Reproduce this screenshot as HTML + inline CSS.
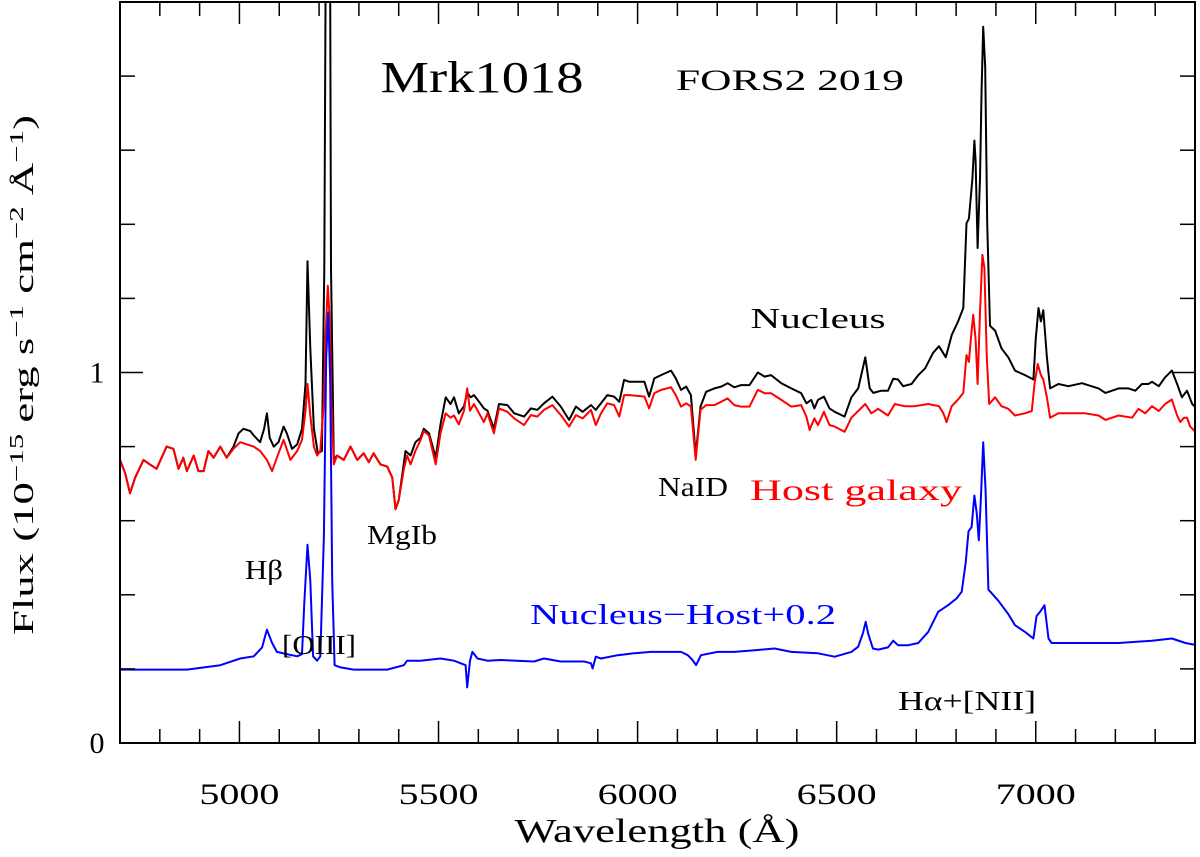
<!DOCTYPE html>
<html><head><meta charset="utf-8"><style>
html,body{margin:0;padding:0;background:#fff;}
svg{display:block;font-family:"Liberation Serif",serif;}
</style></head><body>
<svg id="chart" width="1200" height="857" viewBox="0 0 1200 857" xmlns="http://www.w3.org/2000/svg">
<defs><clipPath id="clip"><rect x="120" y="2" width="1075" height="741"/></clipPath></defs>
<g id="series" clip-path="url(#clip)"></g>
<rect x="120" y="2" width="1075" height="741" fill="none" stroke="#000" stroke-width="2"/>
<g id="ticks"></g>
<text x="482" y="92" font-size="44" textLength="203" lengthAdjust="spacingAndGlyphs" text-anchor="middle">Mrk1018</text>
<text x="790" y="90" font-size="30" textLength="228" lengthAdjust="spacingAndGlyphs" text-anchor="middle">FORS2 2019</text>
<text x="818" y="328" font-size="29" textLength="135" lengthAdjust="spacingAndGlyphs" text-anchor="middle">Nucleus</text>
<text x="856" y="500" font-size="30" fill="#ff0000" textLength="212" lengthAdjust="spacingAndGlyphs" text-anchor="middle">Host galaxy</text>
<text x="693" y="496" font-size="27" textLength="70" lengthAdjust="spacingAndGlyphs" text-anchor="middle">NaID</text>
<text x="402" y="544" font-size="27" textLength="70" lengthAdjust="spacingAndGlyphs" text-anchor="middle">MgIb</text>
<text x="264" y="579" font-size="27" textLength="38" lengthAdjust="spacingAndGlyphs" text-anchor="middle">Hβ</text>
<text x="319" y="654" font-size="27" textLength="74" lengthAdjust="spacingAndGlyphs" text-anchor="middle">[OIII]</text>
<text x="683" y="624" font-size="29" fill="#0000ff" textLength="306" lengthAdjust="spacingAndGlyphs" text-anchor="middle">Nucleus−Host+0.2</text>
<text x="967" y="710" font-size="27" textLength="138" lengthAdjust="spacingAndGlyphs" text-anchor="middle">Hα+[NII]</text>
<text x="657" y="842" font-size="34" textLength="285" lengthAdjust="spacingAndGlyphs" text-anchor="middle">Wavelength (Å)</text>
<text transform="translate(33,375) rotate(-90)" font-size="29" textLength="520" lengthAdjust="spacingAndGlyphs" text-anchor="middle">Flux (10<tspan font-size="20" dy="-10">−15</tspan><tspan dy="10"> erg s</tspan><tspan font-size="20" dy="-10">−1</tspan><tspan dy="10"> cm</tspan><tspan font-size="20" dy="-10">−2</tspan><tspan dy="10"> Å</tspan><tspan font-size="20" dy="-10">−1</tspan><tspan dy="10">)</tspan></text>
</svg>
<script>
const xTickLabels=[5000,5500,6000,6500,7000];
const yTickLabels=[0,1];
const nucleusWave=[4700,4713,4725,4738,4759,4775,4792,4817,4834,4847,4859,4868,4885,4897,4910,4922,4935,4952,4968,4985,4998,5010,5027,5036,5052,5062,5069,5076,5086,5098,5111,5119,5132,5145,5157,5166,5171,5178,5187,5197,5207,5213,5218,5227,5230,5237,5245,5262,5279,5296,5312,5325,5337,5354,5371,5384,5392,5400,5417,5430,5442,5455,5463,5476,5493,5505,5518,5530,5539,5551,5564,5572,5581,5589,5602,5614,5623,5639,5652,5673,5690,5715,5732,5748,5765,5786,5807,5828,5845,5862,5883,5895,5908,5924,5941,5954,5966,5979,6017,6029,6042,6059,6084,6096,6109,6122,6134,6146,6158,6172,6193,6210,6226,6243,6260,6281,6302,6319,6335,6361,6386,6411,6424,6436,6444,6453,6468,6482,6495,6520,6537,6554,6572,6583,6592,6612,6629,6642,6654,6667,6688,6705,6722,6742,6757,6774,6789,6805,6818,6826,6832,6841,6846,6849,6854,6860,6864,6868,6873,6878,6885,6898,6914,6931,6948,6973,6994,7000,7007,7013,7019,7028,7036,7057,7082,7116,7158,7175,7208,7233,7250,7267,7283,7292,7309,7325,7342,7355,7367,7380,7393,7405];
const nucleusFlux=[0.764,0.728,0.674,0.716,0.764,0.752,0.740,0.800,0.794,0.740,0.770,0.734,0.776,0.734,0.734,0.788,0.770,0.800,0.770,0.800,0.836,0.848,0.842,0.830,0.812,0.848,0.890,0.824,0.800,0.812,0.854,0.836,0.794,0.806,0.848,0.969,1.300,1.065,0.848,0.782,0.788,1.282,2.4,2.4,1.282,0.764,0.776,0.764,0.800,0.764,0.782,0.758,0.782,0.752,0.746,0.716,0.631,0.655,0.788,0.776,0.812,0.824,0.848,0.836,0.770,0.860,0.933,0.915,0.933,0.890,0.909,0.945,0.933,0.939,0.921,0.903,0.897,0.848,0.915,0.912,0.890,0.881,0.903,0.899,0.917,0.935,0.908,0.872,0.908,0.894,0.912,0.899,0.917,0.939,0.935,0.921,0.980,0.975,0.975,0.935,0.984,0.993,1.005,0.984,0.953,0.962,0.939,0.777,0.908,0.948,0.957,0.962,0.971,0.960,0.966,0.966,1.000,0.989,0.993,0.971,0.957,0.944,0.917,0.926,0.903,0.926,0.935,0.903,0.894,0.881,0.933,0.957,1.041,0.957,0.945,0.951,0.951,0.983,0.981,0.963,0.969,0.993,1.011,1.053,1.071,1.041,1.101,1.138,1.174,1.403,1.415,1.523,1.626,1.571,1.336,1.523,1.764,1.933,1.824,1.403,1.126,1.113,1.065,1.041,1.005,0.993,0.981,1.089,1.174,1.138,1.168,1.041,0.957,0.969,0.963,0.971,0.957,0.945,0.957,0.957,0.951,0.969,0.969,0.975,0.963,0.987,1.005,0.969,0.933,0.951,0.915,0.902];
const hostWave=[4700,4713,4725,4738,4759,4775,4792,4817,4834,4847,4859,4868,4885,4897,4910,4922,4935,4952,4968,4985,5002,5019,5036,5052,5069,5082,5094,5111,5128,5145,5157,5166,5171,5178,5187,5195,5203,5212,5216,5222,5227,5231,5237,5245,5262,5279,5296,5312,5325,5337,5354,5371,5384,5392,5400,5413,5421,5430,5442,5455,5463,5476,5493,5505,5518,5530,5539,5551,5564,5572,5579,5589,5602,5614,5623,5639,5652,5673,5690,5715,5732,5748,5765,5786,5807,5828,5845,5862,5883,5895,5908,5924,5941,5954,5966,5979,6017,6029,6042,6059,6084,6096,6109,6122,6134,6146,6158,6172,6193,6210,6226,6243,6260,6281,6302,6319,6335,6361,6386,6411,6424,6432,6444,6453,6468,6482,6495,6520,6537,6572,6587,6604,6629,6646,6671,6696,6730,6757,6768,6776,6789,6805,6818,6826,6832,6837,6843,6849,6854,6860,6866,6871,6877,6883,6898,6914,6931,6948,6973,6990,6997,7005,7013,7019,7028,7036,7057,7091,7124,7158,7175,7208,7242,7258,7275,7292,7309,7325,7342,7355,7363,7372,7380,7388,7405];
const hostFlux=[0.764,0.728,0.674,0.716,0.764,0.752,0.740,0.800,0.794,0.740,0.770,0.734,0.776,0.734,0.734,0.788,0.770,0.800,0.770,0.794,0.812,0.806,0.800,0.788,0.764,0.734,0.770,0.818,0.764,0.788,0.818,0.897,0.969,0.884,0.800,0.776,0.788,0.921,1.089,1.234,1.138,0.921,0.752,0.776,0.764,0.800,0.764,0.782,0.758,0.782,0.752,0.746,0.716,0.631,0.655,0.740,0.776,0.752,0.788,0.818,0.842,0.830,0.752,0.836,0.890,0.878,0.884,0.860,0.897,0.957,0.897,0.915,0.890,0.866,0.890,0.836,0.903,0.894,0.876,0.858,0.885,0.881,0.899,0.912,0.885,0.854,0.885,0.876,0.899,0.858,0.890,0.917,0.912,0.881,0.939,0.939,0.935,0.903,0.944,0.953,0.960,0.939,0.908,0.917,0.908,0.764,0.899,0.912,0.912,0.921,0.930,0.912,0.908,0.908,0.953,0.944,0.944,0.926,0.908,0.912,0.881,0.845,0.876,0.858,0.894,0.858,0.854,0.840,0.878,0.915,0.890,0.902,0.884,0.915,0.909,0.909,0.915,0.909,0.890,0.866,0.909,0.927,0.945,1.047,1.029,1.089,1.156,1.089,0.969,1.162,1.318,1.282,1.041,0.915,0.933,0.909,0.902,0.884,0.890,0.896,0.969,1.023,0.993,0.981,0.933,0.878,0.890,0.890,0.890,0.884,0.872,0.884,0.878,0.902,0.890,0.909,0.896,0.915,0.927,0.884,0.866,0.878,0.878,0.854,0.836];
const diffWave=[4700,4784,4868,4952,5002,5036,5057,5069,5082,5094,5119,5145,5157,5163,5171,5178,5185,5195,5203,5212,5218,5223,5228,5233,5239,5254,5287,5371,5413,5421,5455,5505,5539,5568,5572,5579,5585,5598,5623,5656,5740,5765,5807,5866,5883,5887,5895,5908,5950,5991,6033,6075,6109,6126,6138,6147,6159,6201,6243,6302,6344,6386,6453,6495,6537,6554,6566,6573,6579,6591,6604,6629,6642,6654,6680,6705,6730,6755,6780,6801,6814,6824,6831,6839,6846,6852,6857,6862,6868,6874,6881,6906,6931,6948,6973,6994,7002,7011,7022,7032,7040,7124,7208,7292,7342,7376,7405];
const diffFlux=[0.198,0.198,0.198,0.210,0.228,0.234,0.258,0.306,0.270,0.246,0.240,0.234,0.240,0.378,0.535,0.439,0.234,0.222,0.234,0.559,1.041,1.162,0.981,0.439,0.210,0.204,0.198,0.198,0.210,0.222,0.222,0.228,0.222,0.210,0.150,0.222,0.246,0.228,0.222,0.224,0.220,0.228,0.220,0.220,0.215,0.201,0.233,0.228,0.237,0.242,0.246,0.246,0.246,0.237,0.224,0.210,0.237,0.246,0.246,0.251,0.255,0.246,0.242,0.233,0.246,0.260,0.296,0.327,0.296,0.255,0.252,0.258,0.276,0.264,0.264,0.270,0.300,0.354,0.372,0.390,0.408,0.487,0.571,0.583,0.668,0.619,0.547,0.655,0.812,0.680,0.414,0.384,0.348,0.318,0.300,0.282,0.342,0.354,0.372,0.282,0.270,0.270,0.270,0.276,0.282,0.270,0.264];

const X0=120,X1=1195,Y0=743,Y1=2,WMIN=4700,WMAX=7400,FMIN=0,FMAX=2;
function xs(w){return X0+(w-WMIN)/(WMAX-WMIN)*(X1-X0);}
function ys(f){return Y0-(f-FMIN)/(FMAX-FMIN)*(Y0-Y1);}
const NS='http://www.w3.org/2000/svg';
const svg=document.getElementById('chart');
const gS=document.getElementById('series');
const gT=document.getElementById('ticks');
function drawLine(wave,flux,color,name){
  let d='';
  for(let i=0;i<wave.length;i++){d+=(i?'L':'M')+xs(wave[i]).toFixed(1)+' '+ys(flux[i]).toFixed(1);}
  const p=document.createElementNS(NS,'path');
  p.setAttribute('d',d);p.setAttribute('fill','none');p.setAttribute('stroke',color);
  p.setAttribute('stroke-width','2');p.setAttribute('stroke-linejoin','round');
  
  
  gS.appendChild(p);
}
drawLine(nucleusWave,nucleusFlux,'#000000','nucleus-spectrum');
drawLine(hostWave,hostFlux,'#ff0000','host-galaxy-spectrum');
drawLine(diffWave,diffFlux,'#0000ff','difference-spectrum');
function tick(x1,y1,x2,y2){
  const l=document.createElementNS(NS,'line');
  l.setAttribute('x1',x1);l.setAttribute('y1',y1);l.setAttribute('x2',x2);l.setAttribute('y2',y2);
  l.setAttribute('stroke','#000');l.setAttribute('stroke-width','1.5');
  
  
  gT.appendChild(l);
}
for(let w=4800;w<WMAX;w+=100){
  const major=w%500===0, L=major?22:14, x=xs(w);
  tick(x,Y0,x,Y0-L);tick(x,Y1,x,Y1+L);
}
for(let k=1;k<10;k++){
  const f=k*0.2, major=(k===5), L=major?23:15, y=ys(f);
  tick(X0,y,X0+L,y);tick(X1,y,X1-L,y);
}
xTickLabels.forEach(v=>{
  const t=document.createElementNS(NS,'text');
  t.setAttribute('x',xs(v));t.setAttribute('y',804);t.setAttribute('font-size','30');
  t.setAttribute('text-anchor','middle');t.setAttribute('textLength','80');t.setAttribute('lengthAdjust','spacingAndGlyphs');
  t.textContent=v;
  
  
  svg.appendChild(t);
});
yTickLabels.forEach(v=>{
  const t=document.createElementNS(NS,'text');
  t.setAttribute('x',97);t.setAttribute('y',ys(v)+(v===0?10:10));t.setAttribute('font-size','30');
  t.setAttribute('text-anchor','middle');
  t.textContent=v;
  
  
  svg.appendChild(t);
});
</script>
</body></html>
